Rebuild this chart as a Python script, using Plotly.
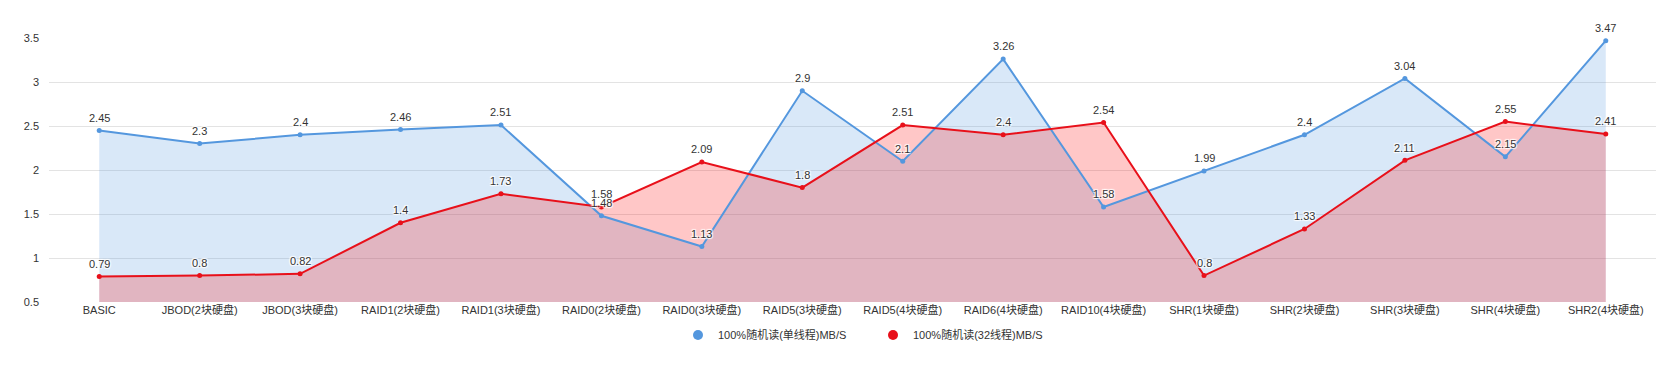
import plotly.graph_objects as go

categories = ["BASIC", "JBOD(2块硬盘)", "JBOD(3块硬盘)", "RAID1(2块硬盘)", "RAID1(3块硬盘)",
              "RAID0(2块硬盘)", "RAID0(3块硬盘)", "RAID5(3块硬盘)", "RAID5(4块硬盘)", "RAID6(4块硬盘)",
              "RAID10(4块硬盘)", "SHR(1块硬盘)", "SHR(2块硬盘)", "SHR(3块硬盘)", "SHR(4块硬盘)", "SHR2(4块硬盘)"]
single_thread = [2.45, 2.3, 2.4, 2.46, 2.51, 1.48, 1.13, 2.9, 2.1, 3.26, 1.58, 1.99, 2.4, 3.04, 2.15, 3.47]
multi_thread = [0.79, 0.8, 0.82, 1.4, 1.73, 1.58, 2.09, 1.8, 2.51, 2.4, 2.54, 0.8, 1.33, 2.11, 2.55, 2.41]
series_names = ["100%随机读(单线程)MB/S", "100%随机读(32线程)MB/S"]
y_ticks = [0.5, 1, 1.5, 2, 2.5, 3, 3.5]

FONT = "Liberation Sans, Arial, Noto Sans CJK SC, sans-serif"
BLUE = "#5497de"
RED = "#e8101a"
halo = "1px 1px 1px #fff, -1px -1px 1px #fff, 1px -1px 1px #fff, -1px 1px 1px #fff"

# the page body adds an 8px offset, so the figure is sized to fit the window
W, H = 1672, 361

series = [
    (series_names[0], single_thread, BLUE, "rgba(84,151,222,0.22)"),
    (series_names[1], multi_thread, RED, "rgba(255,0,0,0.22)"),
]

fig = go.Figure()
# area fills first
for name, vals, col, fill in series:
    fig.add_trace(go.Scatter(
        x=categories, y=vals, mode="none", fill="tozeroy", fillcolor=fill,
        showlegend=False, hoverinfo="skip",
    ))
# lines on top of both fills
for name, vals, col, fill in series:
    fig.add_trace(go.Scatter(
        x=categories, y=vals, mode="lines+markers", name=name,
        line=dict(color=col, width=2), marker=dict(color=col, size=5),
        showlegend=False, cliponaxis=False,
    ))
# value labels (red series first so blue labels sit on top)
for name, vals, col, fill in reversed(series):
    for c, v in zip(categories, vals):
        fig.add_annotation(
            x=c, y=v, text=str(v), showarrow=False, yanchor="middle", yshift=12.7,
            font=dict(family=FONT, size=11, color="#333", shadow=halo),
        )
# legend entries
for name, vals, col, fill in series:
    fig.add_trace(go.Scatter(
        x=[None], y=[None], mode="markers", name=name,
        marker=dict(color=col, size=10), showlegend=True,
    ))

fig.update_layout(
    template="none",
    width=W, height=H,
    margin=dict(l=41, r=24, t=30, b=67),
    paper_bgcolor="white", plot_bgcolor="white",
    font=dict(family=FONT, size=11, color="#333"),
    xaxis=dict(type="category", range=[-0.5, 15.5], showgrid=False, showline=False,
               zeroline=False, ticks="", automargin=False,
               tickfont=dict(size=11, color="#333")),
    yaxis=dict(range=[0.5, 3.5], tickvals=y_ticks, ticktext=[str(t) for t in y_ticks],
               showgrid=True, gridcolor="#e3e3e3", gridwidth=1, zeroline=False,
               showline=False, ticks="", automargin=False,
               tickfont=dict(size=11, color="#333"), ticklabelstandoff=9),
    legend=dict(orientation="h", xref="container", x=670 / W, xanchor="left",
                yref="container", y=(H - 327) / H, yanchor="middle",
                entrywidth=150, entrywidthmode="pixels",
                font=dict(size=11, color="#333"), bgcolor="rgba(0,0,0,0)"),
)
fig.write_html("out.html")
